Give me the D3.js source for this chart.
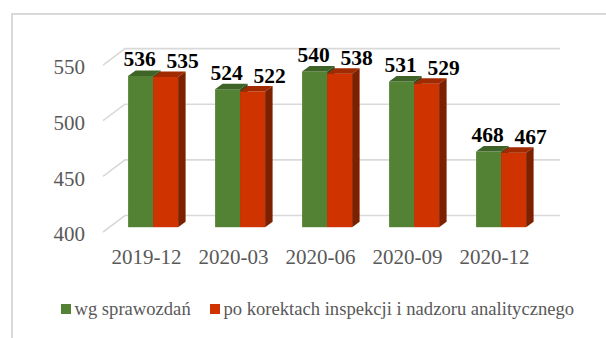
<!DOCTYPE html>
<html>
<head>
<meta charset="utf-8">
<script src="https://cdn.jsdelivr.net/npm/d3@7"></script>
<style>
  html, body { margin: 0; padding: 0; background: #fff; }
  svg { display: block; }
  svg text { font-family: 'Liberation Serif', 'Times New Roman', 'Tinos', serif; }
</style>
</head>
<body>
<svg id="chart" width="606" height="338"></svg>
<script>
// Quarterly counts: as reported vs. after inspection corrections
const categories = ["2019-12", "2020-03", "2020-06", "2020-09", "2020-12"];
const reported = [536, 524, 540, 531, 468];
const corrected = [535, 522, 538, 529, 467];
const tickValues = [400, 450, 500, 550];
const seriesNames = ["wg sprawozdań", "po korektach inspekcji i nadzoru analitycznego"];

const FONT = "'Liberation Serif', 'Times New Roman', 'Tinos', serif";

const colors = {
  green: { front: "#548235", top: "#3f6428", side: "#2f4c1e" },
  red:   { front: "#cf3400", top: "#a22a00", side: "#7c2000" }
};

const svg = d3.select("#chart");

// Outer chart frame (runs off the page on the right and bottom)
svg.append("rect")
  .attr("x", 12).attr("y", 14)
  .attr("width", 620).attr("height", 340)
  .attr("fill", "none")
  .attr("stroke", "#d9d9d9")
  .attr("stroke-width", 2);

// Front-plane scales; the back wall and bar faces are offset in depth
const x = d3.scaleBand().domain(categories).range([103, 538]);
const y = d3.scaleLinear().domain([400, 550]).range([232, 65.1]);

const WALL = { dx: 22, dy: -16.5 };  // back wall offset
const BAR = { dx: 6.6, dy: -4.8 };   // bar front face offset
const DEPTH = { dx: 7.5, dy: -5.5 }; // bar thickness in depth
const barW = 25;

// Side-wall diagonals and back-wall gridlines
const grid = svg.append("g").attr("stroke", "#d9d9d9").attr("stroke-width", 1.6).attr("fill", "none");
tickValues.forEach(v => {
  const x0 = x.range()[0], x1 = x.range()[1];
  grid.append("path")
    .attr("d", `M${x0},${y(v)} L${x0 + WALL.dx},${y(v) + WALL.dy} L${x1 + WALL.dx},${y(v) + WALL.dy}`);
});

// Value axis labels
const yAxis = svg.append("g")
  .attr("transform", "translate(85,2)")
  .call(d3.axisLeft(y).tickValues(tickValues).tickSize(0).tickPadding(0).tickFormat(d3.format("d")));
yAxis.attr("font-family", null);
yAxis.select(".domain").remove();
yAxis.selectAll("text")
  .attr("fill", "#595959")
  .style("font-size", "21px")
  .style("font-family", FONT);

// Category axis labels
const xAxis = svg.append("g")
  .attr("transform", "translate(0,232)")
  .call(d3.axisBottom(x).tickSize(0).tickPadding(17.4));
xAxis.attr("font-family", null);
xAxis.select(".domain").remove();
xAxis.selectAll("text")
  .attr("fill", "#595959")
  .style("font-size", "21px")
  .style("font-family", FONT);

// 3D bar drawing
function drawBar(g, left, value, pal) {
  const top = y(value) + BAR.dy;
  const bottom = y(400) + BAR.dy;
  const right = left + barW;
  g.append("rect")
    .attr("x", left).attr("y", top)
    .attr("width", barW).attr("height", bottom - top)
    .attr("fill", pal.front);
  g.append("path")
    .attr("d", `M${left},${top} L${left + DEPTH.dx},${top + DEPTH.dy} L${right + DEPTH.dx},${top + DEPTH.dy} L${right},${top} Z`)
    .attr("fill", pal.top);
  g.append("path")
    .attr("d", `M${right},${top} L${right + DEPTH.dx},${top + DEPTH.dy} L${right + DEPTH.dx},${bottom + DEPTH.dy} L${right},${bottom} Z`)
    .attr("fill", pal.side);
}

const bars = svg.append("g");
const labels = svg.append("g")
  .attr("text-anchor", "middle")
  .attr("fill", "#000");

categories.forEach((c, i) => {
  const cx = x(c) + x.bandwidth() / 2 + BAR.dx;
  drawBar(bars, cx - barW, reported[i], colors.green);
  drawBar(bars, cx, corrected[i], colors.red);

  labels.append("text")
    .attr("x", cx - barW / 2 - 1)
    .attr("y", y(reported[i]) + BAR.dy - 9.5)
    .style("font-family", FONT).style("font-size", "21.5px").style("font-weight", "bold")
    .text(reported[i]);
  labels.append("text")
    .attr("x", cx + barW / 2 + 17)
    .attr("y", y(corrected[i]) + BAR.dy - 8.5)
    .style("font-family", FONT).style("font-size", "21.5px").style("font-weight", "bold")
    .text(corrected[i]);
});

// Legend
const legend = svg.append("g").attr("fill", "#595959");
const legendItems = [
  { name: seriesNames[0], color: colors.green.front, x: 61 },
  { name: seriesNames[1], color: colors.red.front, x: 210 }
];
legendItems.forEach(d => {
  legend.append("rect")
    .attr("x", d.x).attr("y", 304)
    .attr("width", 10).attr("height", 10)
    .attr("fill", d.color);
  legend.append("text")
    .attr("x", d.x + 13.5).attr("y", 314.5)
    .style("font-family", FONT).style("font-size", "18.6px")
    .text(d.name);
});
</script>
</body>
</html>
